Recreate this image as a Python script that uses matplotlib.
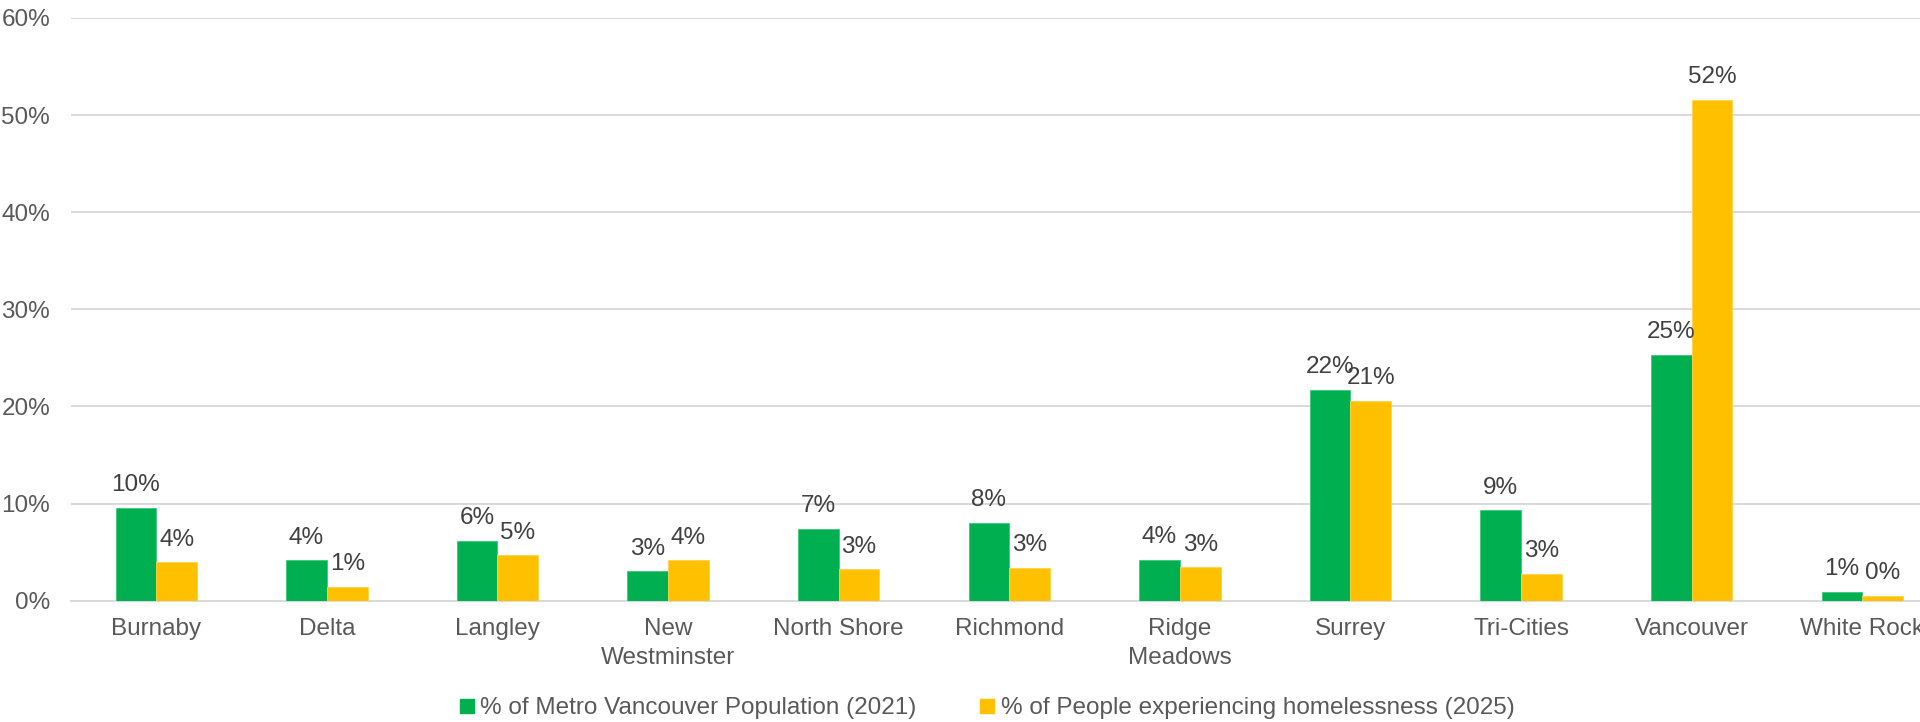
import matplotlib
matplotlib.use("Agg")
import matplotlib.pyplot as plt
from matplotlib.lines import Line2D
import numpy as np

plt.rcParams['font.family'] = ['Liberation Sans', 'DejaVu Sans']

categories = ["Burnaby", "Delta", "Langley", "New\nWestminster", "North Shore", "Richmond",
              "Ridge\nMeadows", "Surrey", "Tri-Cities", "Vancouver", "White Rock"]
population_2021 = [9.55, 4.16, 6.19, 3.04, 7.42, 8.03, 4.2, 21.7, 9.3, 25.3, 0.88]
homeless_2025 = [3.95, 1.4, 4.68, 4.17, 3.22, 3.35, 3.45, 20.55, 2.8, 51.6, 0.48]
series_names = ["% of Metro Vancouver Population (2021)", "% of People experiencing homelessness (2025)"]
colors = ["#00B050", "#FFC000"]
yticks = [0, 10, 20, 30, 40, 50, 60]

fig = plt.figure(figsize=(19.2, 7.22), dpi=100)
ax = fig.add_axes([71/1920, (722-600.7)/722, 1876.6/1920, (600.7-18)/722])

x = np.arange(len(categories))
w = 0.239
b1 = ax.bar(x - w/2, population_2021, w, color=colors[0], edgecolor="#3CC878", linewidth=0.6, zorder=3)
b2 = ax.bar(x + w/2, homeless_2025, w, color=colors[1], edgecolor="#FFD24D", linewidth=0.6, zorder=3)

for bars, vals in ((b1, population_2021), (b2, homeless_2025)):
    for r, v in zip(bars, vals):
        ax.annotate(f"{round(v)}%", (r.get_x() + r.get_width()/2, v), xytext=(0, 12),
                    textcoords="offset points", ha="center", va="baseline",
                    fontsize=17.5, color="#404040", zorder=4)

ax.set_xlim(-0.5, len(categories) - 0.5)
ax.set_ylim(0, 60)
ax.set_yticks(yticks)
ax.set_yticklabels([f"{t}%" for t in yticks])
ax.set_xticks(x)
ax.set_xticklabels(categories, linespacing=1.4)
ax.tick_params(axis="y", length=0, pad=15, labelsize=17.5, labelcolor="#595959")
ax.tick_params(axis="x", length=0, pad=12.5, labelsize=17.5, labelcolor="#595959")
ax.grid(axis="y", color="#D9D9D9", linewidth=1.4, zorder=0)
for s in ["top", "right", "left"]:
    ax.spines[s].set_visible(False)
ax.spines["bottom"].set_color("#D9D9D9")
ax.spines["bottom"].set_linewidth(1.4)

handles = [Line2D([], [], marker="s", linestyle="none", markersize=9.5, color=c) for c in colors]
fig.legend(handles, series_names, loc="center", bbox_to_anchor=(987/1920, 1 - 708/722),
           ncol=2, frameon=False, fontsize=17.5, labelcolor="#595959",
           handlelength=0.6, handletextpad=0.25, columnspacing=2.6)

fig.savefig("out.png", dpi=100)
